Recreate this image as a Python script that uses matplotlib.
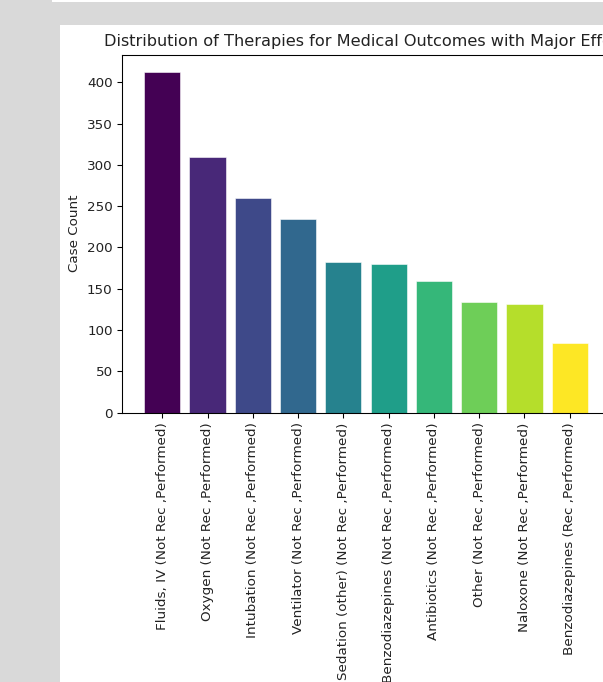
import matplotlib
matplotlib.use("Agg")
import matplotlib.pyplot as plt
import numpy as np
from matplotlib.patches import Rectangle

categories = [
    "Fluids, IV (Not Rec ,Performed)",
    "Oxygen (Not Rec ,Performed)",
    "Intubation (Not Rec ,Performed)",
    "Ventilator (Not Rec ,Performed)",
    "Sedation (other) (Not Rec ,Performed)",
    "Benzodiazepines (Not Rec ,Performed)",
    "Antibiotics (Not Rec ,Performed)",
    "Other (Not Rec ,Performed)",
    "Naloxone (Not Rec ,Performed)",
    "Benzodiazepines (Rec ,Performed)",
]
counts = [413, 310, 260, 234, 182, 180, 159, 134, 132, 84]
title = "Distribution of Therapies for Medical Outcomes with Major Effect"
ylabel = "Case Count"

W, H = 603, 682
DPI = 97
fig = plt.figure(figsize=(W / DPI, H / DPI), dpi=DPI)
fig.patch.set_facecolor("#d9d9d9")
# white notebook output area
fig.add_artist(Rectangle((60 / W, 0), 1, (H - 25) / H, transform=fig.transFigure,
                         facecolor="white", edgecolor="none", zorder=0))
fig.add_artist(Rectangle((52 / W, (H - 2) / H), 1, 2 / H, transform=fig.transFigure,
                         facecolor="white", edgecolor="none", zorder=0))

left, right, top, bottom = 122, 610, 54.5, 412.7
ax = fig.add_axes([left / W, (H - bottom) / H, (right - left) / W, (bottom - top) / H])
colors = plt.cm.viridis(np.linspace(0, 1, len(categories)))
x = np.arange(len(categories))
ax.bar(x, counts, color=colors, edgecolor="white", linewidth=0.4)
ax.set_xticks(x)
ax.set_xticklabels(categories, rotation=90, color="#222222")
ax.tick_params(axis="y", labelcolor="#222222")
ax.set_ylabel(ylabel, color="#222222")
ax.set_title(title, color="#222222")

fig.savefig("out.png", dpi=DPI, facecolor=fig.get_facecolor())
